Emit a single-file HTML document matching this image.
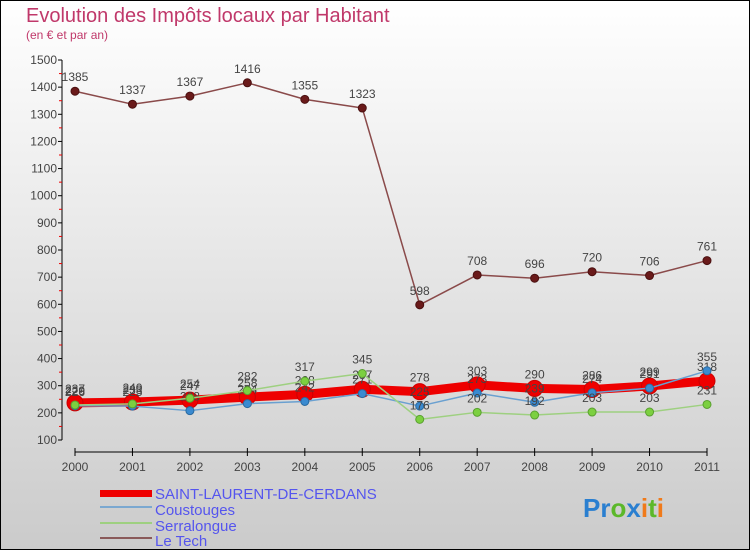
<!DOCTYPE html>
<html><head><meta charset="utf-8"><style>
body{margin:0;width:750px;height:550px;overflow:hidden;font-family:"Liberation Sans",sans-serif}
svg{display:block}
</style></head><body>
<svg id="c" width="750" height="550" xmlns="http://www.w3.org/2000/svg">
<defs><linearGradient id="bg" x1="0" y1="0" x2="0" y2="1"><stop offset="0" stop-color="#ffffff"/><stop offset="1" stop-color="#cbcbcb"/></linearGradient></defs>
<rect x="0.5" y="0.5" width="749" height="549" fill="url(#bg)" stroke="#000"/>
<text x="26" y="22" font-size="20" fill="#c0386a">Evolution des Impôts locaux par Habitant</text>
<text x="26" y="39" font-size="12" fill="#c0386a">(en € et par an)</text>
<g id="axes"></g><g id="series"></g>
<g font-size="15" fill="#5555ee">
<rect x="100" y="490" width="52" height="7" fill="#ee0000"/>
<text x="155" y="499">SAINT-LAURENT-DE-CERDANS</text>
<line x1="100" y1="507" x2="152" y2="507" stroke="#7ba8d0" stroke-width="2"/>
<text x="155" y="515">Coustouges</text>
<line x1="100" y1="523" x2="152" y2="523" stroke="#9ed080" stroke-width="2"/>
<text x="155" y="531">Serralongue</text>
<line x1="100" y1="538" x2="152" y2="538" stroke="#8a5a5a" stroke-width="2"/>
<text x="155" y="546">Le Tech</text>
</g>
<text x="583" y="517" font-size="26" font-weight="bold"><tspan fill="#2a7fd0">Pr</tspan><tspan fill="#5cb82a">o</tspan><tspan fill="#2a7fd0">x</tspan><tspan fill="#f07a1a">i</tspan><tspan fill="#5cb82a">t</tspan><tspan fill="#f07a1a">i</tspan></text>
</svg>
<script>
const years=[2000,2001,2002,2003,2004,2005,2006,2007,2008,2009,2010,2011];
const yTicks=[100,200,300,400,500,600,700,800,900,1000,1100,1200,1300,1400,1500];
const saintLaurent=[237,240,247,258,268,287,278,303,290,286,299,318];
const coustouges=[226,225,208,234,242,271,225,273,239,274,291,355];
const serralongue=[229,233,254,282,317,345,176,202,192,203,203,231];
const leTech=[1385,1337,1367,1416,1355,1323,598,708,696,720,706,761];
const NS="http://www.w3.org/2000/svg";
const xS=i=>75+i*(707-75)/11;
const yS=v=>440-(v-100)*(380/1400);
function mk(t,a,p){const e=document.createElementNS(NS,t);for(const k in a)e.setAttribute(k,a[k]);p.appendChild(e);return e;}
const ax=document.getElementById('axes');
let e=mk('line',{x1:62,y1:60,x2:62,y2:440,stroke:'#000'},ax);


e=mk('line',{x1:75,y1:452,x2:707,y2:452,stroke:'#000'},ax);


yTicks.forEach(v=>{const y=yS(v);
mk('line',{x1:58,y1:y,x2:62,y2:y,stroke:'#000'},ax);
if(v<1500)mk('line',{x1:59,y1:yS(v+50),x2:62,y2:yS(v+50),stroke:'#e00'},ax);
const t=mk('text',{x:57,y:y+4,'font-size':12,'text-anchor':'end',fill:'#444'},ax);t.textContent=v;

});
years.forEach((yr,i)=>{const x=xS(i);
mk('line',{x1:x,y1:448,x2:x,y2:456,stroke:'#000'},ax);
const t=mk('text',{x:x,y:471,'font-size':12,'text-anchor':'middle',fill:'#444'},ax);t.textContent=yr;

});
const sg=document.getElementById('series');
function draw(data,name,lc,w,dc,r,sc){
const g=mk('g',{},sg);


const pl=mk('polyline',{points:data.map((v,i)=>xS(i)+','+yS(v)).join(' '),fill:'none',stroke:lc,'stroke-width':w,'stroke-linejoin':'round'},g);


data.forEach((v,i)=>{const c=mk('circle',{cx:xS(i),cy:yS(v),r:r,fill:dc,stroke:sc,'stroke-width':1},g);


const t=mk('text',{x:xS(i),y:yS(v)-10,'font-size':12,'text-anchor':'middle',fill:'#444'},g);t.textContent=v;

});
}
draw(saintLaurent,'saint-laurent','#ee0000',9,'#ee0000',8,'#cc0000');
draw(coustouges,'coustouges','#6aa0d0',1.5,'#3a8ad0',4,'#2a6aa0');
draw(serralongue,'serralongue','#9ed080',1.5,'#7cd040',4,'#5aa030');
draw(leTech,'le-tech','#8a4a4a',1.5,'#6a1a1a',4,'#4a1010');
</script>
</body></html>
